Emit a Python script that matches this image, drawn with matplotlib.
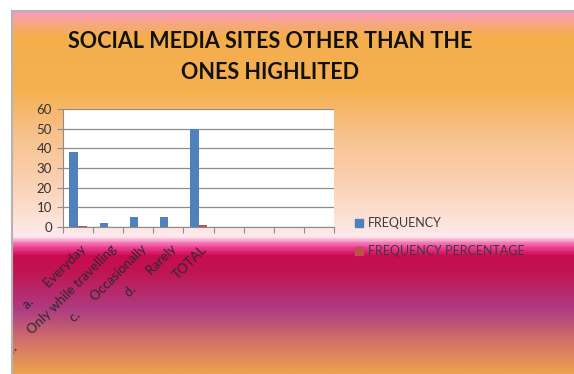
import numpy as np
import matplotlib
matplotlib.use("Agg")
import matplotlib.pyplot as plt
from matplotlib.colors import LinearSegmentedColormap
from matplotlib.lines import Line2D
from matplotlib.patches import Patch
from matplotlib.transforms import ScaledTranslation

plt.rcParams['font.family'] = ['Lato', 'DejaVu Sans']

title = "SOCIAL MEDIA SITES OTHER THAN THE\nONES HIGHLITED"
categories = ["a.      Everyday", "b.      Only while travelling",
              "c.      Occasionally", "d.      Rarely", "TOTAL"]
n_slots = 9          # the category axis keeps 4 empty slots on the right
frequency = [38, 2, 5, 5, 50]
frequency_pct = [0.76, 0.04, 0.1, 0.1, 1.0]
series_names = ["FREQUENCY", "FREQUENCY PERCENTAGE"]
yticks = [0, 10, 20, 30, 40, 50, 60]

blue = "#4f81bd"
red = "#c0504d"

W, H = 574, 374
fig = plt.figure(figsize=(W / 100, H / 100), dpi=100)

# vertical backdrop gradient (pixel row, colour), top to bottom
left_px, top_px = 12, 11
stops = [(11, "#f99ac2"), (20, "#f8a68e"), (35, "#f5ae4c"), (90, "#f5b050"),
         (130, "#f8c088"), (180, "#fad0b2"), (215, "#fde0d2"), (237, "#fde9ee"),
         (243, "#f47ab8"), (248, "#ee3c94"), (256, "#c80c4c"), (272, "#c01452"),
         (310, "#ae3c82"), (340, "#d06e6a"), (374, "#eca24e")]
span = H - top_px
cmap = LinearSegmentedColormap.from_list(
    "backdrop", [((y - top_px) / span, c) for y, c in stops])

bg = fig.add_axes([left_px / W, 0, 1 - left_px / W, 1 - top_px / H])
bg.imshow(np.linspace(0, 1, 600)[:, None], aspect="auto", cmap=cmap,
          extent=[0, 1, 0, 1], interpolation="bilinear")
bg.axis("off")

border = "#b4b4b4"
fig.add_artist(Line2D([left_px / W] * 2, [0, 1 - top_px / H], color=border,
                      lw=1.5, transform=fig.transFigure))
fig.add_artist(Line2D([left_px / W, 1], [1 - top_px / H] * 2, color=border,
                      lw=1.5, transform=fig.transFigure))

fig.text(270 / W, 1 - 57 / H, title, ha="center", va="center", fontsize=15.5,
         fontweight="bold", color="#111111", linespacing=1.6)

# plot area
ax = fig.add_axes([63 / W, 1 - 227 / H, 271 / W, 118 / H])
ax.set_facecolor("white")
x = np.arange(len(categories))
w = 0.286
ax.bar(x - w / 2, frequency, w, color=blue, zorder=3)
ax.bar(x + w / 2, frequency_pct, w, color=red, zorder=3)

ax.set_xlim(-0.5, n_slots - 0.5)
ax.set_ylim(0, 60)
ax.set_yticks(yticks)
ax.yaxis.grid(True, color="#8c8c8c", lw=0.9, zorder=0)
for s in ["top", "right"]:
    ax.spines[s].set_visible(False)
for s in ["left", "bottom"]:
    ax.spines[s].set_color("#8c8c8c")

ax.set_xticks(np.arange(n_slots + 1) - 0.5)
ax.set_xticklabels([])
ax.tick_params(axis="x", length=4, color="#8c8c8c")
ax.tick_params(axis="y", length=4, color="#8c8c8c", labelsize=9.5,
               labelcolor="#333333", pad=4)

# slanted category names, clipped to the chart box
shift = ScaledTranslation(6 / 100, -20 / 100, fig.dpi_scale_trans)
for xi, name in zip(x, categories):
    t = ax.text(xi, 0, name, transform=ax.get_xaxis_transform() + shift,
                rotation=45, rotation_mode="anchor", ha="right", va="center",
                fontsize=9.5, color="#2a2a2a", clip_on=True)
    t.set_clip_box(bg.bbox)

handles = [Patch(color=blue, label=series_names[0]),
           Patch(color=red, label=series_names[1])]
fig.legend(handles=handles, loc="upper left",
           bbox_to_anchor=(355 / W, 1 - 217 / H), frameon=False, fontsize=9,
           handlelength=0.6, handleheight=0.6, handletextpad=0.4,
           labelspacing=1.3, borderpad=0, borderaxespad=0,
           labelcolor="#3a3a3a")

fig.savefig("out.png", dpi=100)
